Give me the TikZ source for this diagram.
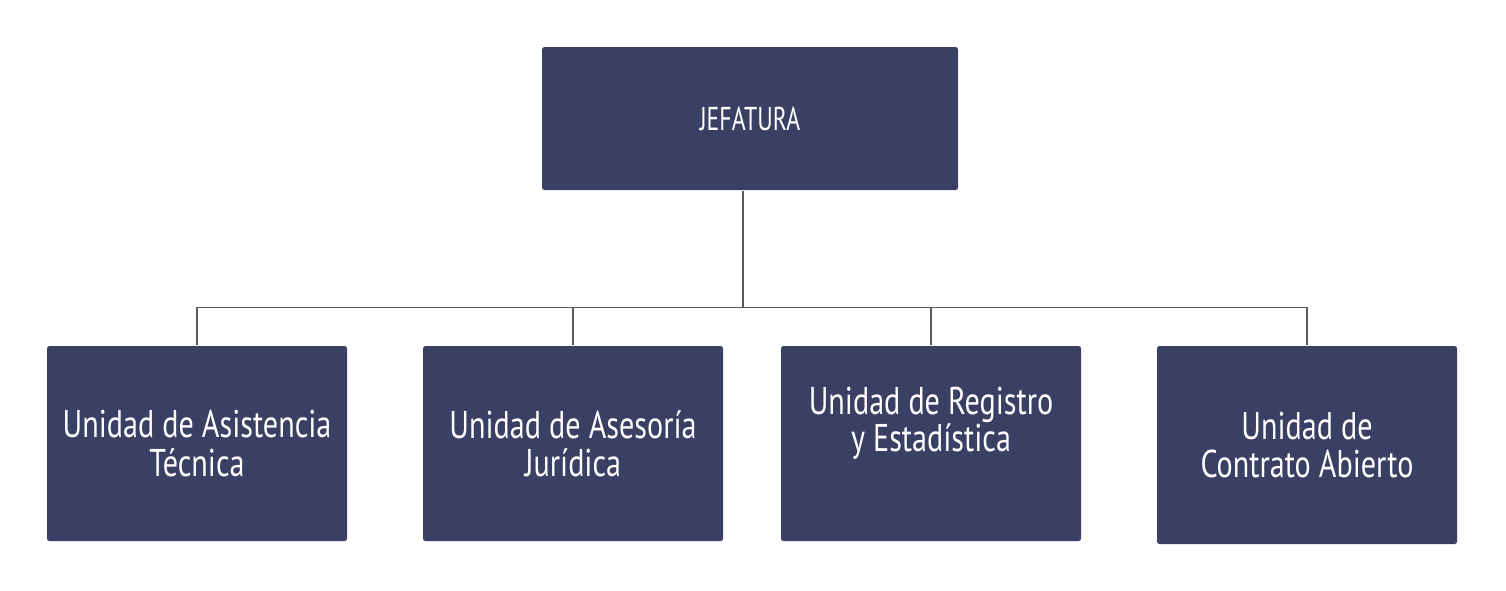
\documentclass[tikz,border=0pt]{standalone}
\usepackage{fontspec}
\setmainfont[FakeStretch=0.78]{PT Sans}
\newfontfamily\jeffont[FakeStretch=0.72]{PT Sans}
\usetikzlibrary{positioning}
\definecolor{caja}{HTML}{3A4063}
\definecolor{linea}{HTML}{5A5A5A}

\begin{document}
\begin{tikzpicture}[x=0.1mm, y=-0.1mm,
  unidad/.style={fill=caja, rounded corners=0.25mm, text=white, align=center,
    minimum width=30mm, minimum height=19.5mm, inner sep=0, font=\fontsize{11}{10.9}\selectfont},
  conn/.style={draw=linea, line width=0.35pt}]
\useasboundingbox (0,0) rectangle (1506,590);
% jefatura
\node[unidad, minimum width=41.6mm, minimum height=14.3mm, font=\jeffont\fontsize{9.4}{10}\selectfont] (jef) at (750,118.5) {JEFATURA};
% unidades
\node[unidad] (uat) at (197,443.5) {Unidad de Asistencia\\T\'ecnica};
\node[unidad] (uaj) at (573,443.5) {Unidad de Asesor\'ia\\Jur\'idica};
\node[unidad] (ure) at (931,443.5) {\raisebox{4.8mm}{\shortstack{Unidad de Registro\\[-0.9mm]y Estad\'istica}}};
\node[unidad, minimum height=19.8mm] (ucc) at (1307,445) {Unidad de\\Contrato Abierto};
% conectores
\coordinate (bus) at (743,308);
\draw[conn] (jef.south -| bus) -- (bus);
\draw[conn] (uat.north) -- ++(0,-38) -| (ucc.north);
\draw[conn] (uaj.north) -- ++(0,-38);
\draw[conn] (ure.north) -- ++(0,-38);
\end{tikzpicture}
\end{document}
